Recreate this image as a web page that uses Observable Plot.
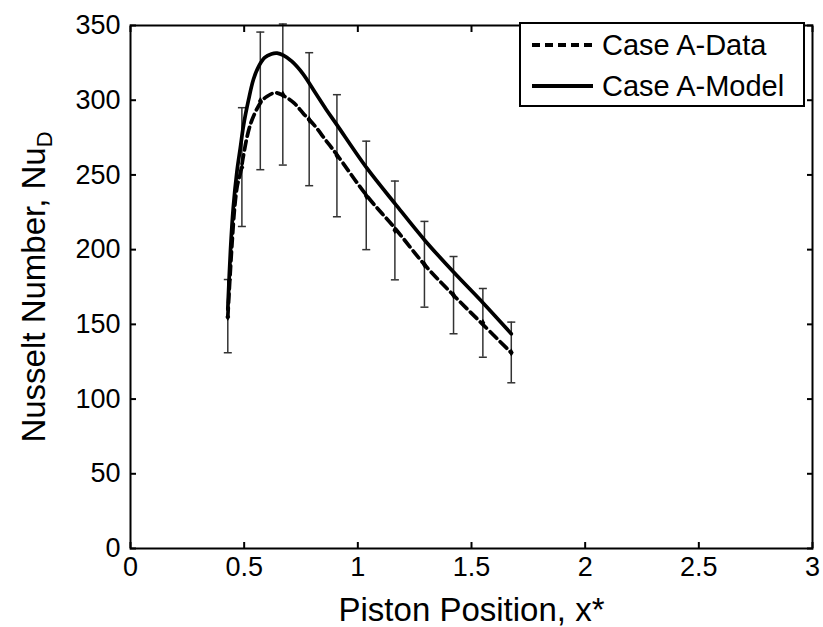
<!DOCTYPE html>
<html><head><meta charset="utf-8">
<script src="https://cdn.jsdelivr.net/npm/d3@7"></script>
<script src="https://cdn.jsdelivr.net/npm/@observablehq/plot@0.6"></script>
<style>
body{margin:0;background:#fff;}
#wrap{position:relative;width:823px;height:627px;font-family:"Liberation Sans",Arial,sans-serif;color:#000;}
#legend{position:absolute;left:519px;top:22px;width:282px;height:81px;border:2px solid #000;background:#fff;}
.row{position:absolute;left:0;height:36px;display:flex;align-items:center;font-size:29px;white-space:nowrap;}
.row svg{margin-left:11px;margin-right:9px;}
</style></head><body><div id="wrap"></div>
<script>
// Model curve (solid)
const modelX = [0.428,0.440,0.452,0.468,0.483,0.497,0.519,0.541,0.565,0.590,0.620,0.645,0.673,0.710,0.757,0.813,0.860,0.908,1.040,1.165,1.296,1.421,1.553,1.675];
const modelY = [160,200,228,252,268,283,300,314,323,328.5,331,331.5,330,326,318,305,294,283.5,254.5,230.5,206,185,164,143.7];
// Data curve (dashed)
const dataX = [0.428,0.437,0.447,0.458,0.470,0.483,0.497,0.512,0.530,0.549,0.575,0.600,0.637,0.673,0.720,0.761,0.810,0.860,0.908,1.040,1.165,1.296,1.421,1.546,1.675];
const dataY = [155,180,205,228,243,251,263,275,285,292,299,302.5,305,303,298,291,283,273,263.5,236,214,189.5,169.5,150.5,131];
// Error bars on data
const barX  = [0.428,0.490,0.571,0.670,0.786,0.908,1.037,1.163,1.293,1.421,1.550,1.675];
const barLo = [131,215.5,253.5,256.6,242.8,222,200,179.8,161.5,143.7,128,110.9];
const barHi = [180,295,345.6,351,331.8,303.7,272.6,245.9,218.9,195.4,174,151.5];
const barMid = [155,255,299.5,303.8,287,263,236,213,190,169.5,151,131.2];
const xTicks = [0,0.5,1,1.5,2,2.5,3];
const yTicks = [0,50,100,150,200,250,300,350];
const seriesNames = ["Case A-Data","Case A-Model"];

const model = modelX.map((x,i)=>({x, y: modelY[i]}));
const data = dataX.map((x,i)=>({x, y: dataY[i]}));
const bars = barX.map((x,i)=>({x, lo: barLo[i], hi: barHi[i], mid: barMid[i]}));

const cap = {draw(ctx){ ctx.moveTo(-4,0); ctx.lineTo(4,0); }};
const fmt = d => String(d);

const chart = Plot.plot({
  width: 823, height: 627,
  marginLeft: 130, marginRight: 11, marginTop: 25, marginBottom: 79,
  style: {fontFamily: '"Liberation Sans", Arial, sans-serif', color: "#000", background: "#fff"},
  x: {domain: [0,3]},
  y: {domain: [0,350]},
  marks: [
    Plot.ruleX(bars, {x: "x", y1: "lo", y2: "hi", stroke: "#333", strokeWidth: 1.5}),
    Plot.dot(bars, {x: "x", y: "lo", symbol: cap, r: 4, fill: "none", stroke: "#333", strokeWidth: 1.5}),
    Plot.dot(bars, {x: "x", y: "hi", symbol: cap, r: 4, fill: "none", stroke: "#333", strokeWidth: 1.5}),
    Plot.line(data, {x: "x", y: "y", curve: "catmull-rom", stroke: "#000", strokeWidth: 3.7, strokeDasharray: "9,5"}),
    Plot.line(model, {x: "x", y: "y", curve: "catmull-rom", stroke: "#000", strokeWidth: 3.7}),
    Plot.dot(bars, {x: "x", y: "mid", symbol: "diamond", r: 2.5, fill: "#000"}),
    Plot.frame({stroke: "#000", strokeWidth: 2}),
    Plot.axisX({anchor: "bottom", ticks: xTicks, tickFormat: fmt, tickSize: -6, tickPadding: 14, fontSize: 27,
      label: "Piston Position, x*", labelAnchor: "center", labelArrow: "none", labelOffset: 72, strokeWidth: 2}),
    Plot.axisX({anchor: "top", ticks: xTicks, tickFormat: () => "", tickSize: -6, label: null, strokeWidth: 2}),
    Plot.axisY({anchor: "left", ticks: yTicks, tickFormat: fmt, tickSize: -6, tickPadding: 16, fontSize: 27,
      label: "Nusselt Number, Nu", labelAnchor: "center", labelArrow: "none", labelOffset: 109, strokeWidth: 2}),
    Plot.axisY({anchor: "right", ticks: yTicks, tickFormat: () => "", tickSize: -6, label: null, strokeWidth: 2})
  ]
});
document.getElementById("wrap").appendChild(chart);

// axis label font sizes and subscript
d3.select(chart).selectAll('g[aria-label="x-axis label"] text, g[aria-label="y-axis label"] text').style("font-size", "33px");
const yl = d3.select(chart).select('g[aria-label="y-axis label"] text');
if (!yl.empty()) {
  yl.append("tspan").attr("dy", "0.3em").style("font-size", "22px").text("D");
}

// legend
const leg = d3.select("#wrap").append("div").attr("id", "legend");
seriesNames.forEach((name, i) => {
  const row = leg.append("div").attr("class", "row").style("top", (i === 0 ? 3 : 44) + "px");
  const s = row.append("svg").attr("width", 61).attr("height", 10);
  s.append("line").attr("x1", 0).attr("x2", 61).attr("y1", 5).attr("y2", 5)
    .attr("stroke", "#000").attr("stroke-width", 4)
    .attr("stroke-dasharray", i === 0 ? "8,5" : null);
  row.append("span").text(name);
});
</script></body></html>
